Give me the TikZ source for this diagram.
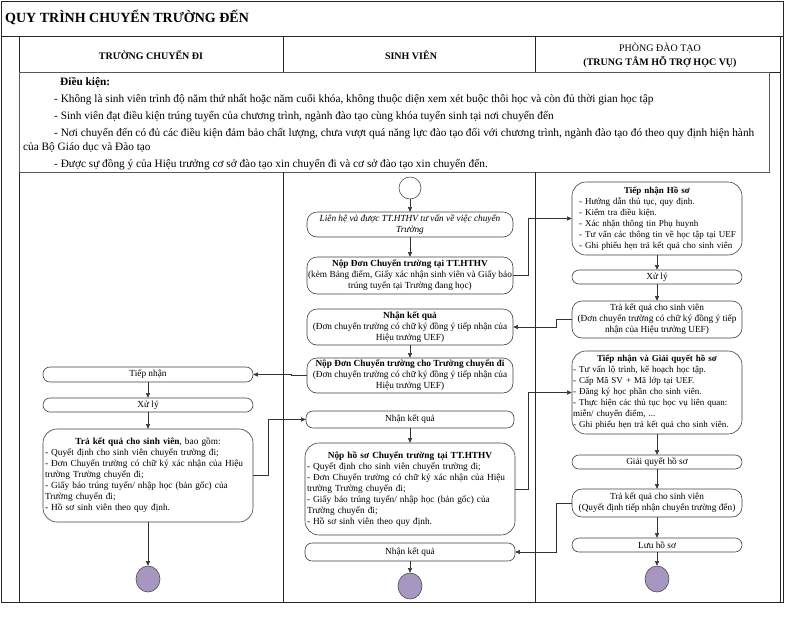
\documentclass[tikz,border=0pt]{standalone}
\usepackage{fontspec}
\setmainfont{Liberation Serif}
\usetikzlibrary{arrows.meta,shapes.geometric}
\definecolor{endc}{RGB}{166,150,192}
\begin{document}
\begin{tikzpicture}[x=1pt,y=-1pt,
  frame/.style={draw=black!85, line width=.8pt},
  bx/.style={draw=black!75, line width=.6pt, fill=white, inner sep=0pt, font=\fontsize{9.3}{11}\selectfont},
  pill/.style={bx, rounded corners=7pt, align=center},
  rbox/.style={bx, rounded corners=10pt, align=center},
  listbox/.style={bx, rounded corners=14pt},
  fin/.style={ellipse, draw=black!70, line width=.6pt, fill=endc, minimum width=24pt, minimum height=26pt, inner sep=0pt},
  startc/.style={circle, draw=black!70, line width=.6pt, fill=white, minimum size=22pt, inner sep=0pt},
  conn/.style={draw=black!80, line width=.5pt, -{Triangle[length=4.5pt,width=4pt]}},
  hdr/.style={font=\fontsize{10}{12}\selectfont, align=center, inner sep=0pt},
  cond/.style={font=\fontsize{11.3}{13}\selectfont, anchor=west, inner sep=0pt}
]
\useasboundingbox (0,0) rectangle (800,619);
% frames
\draw[frame] (1,1) rectangle (783,602);
\draw[frame] (1,36) -- (783,36);
\draw[frame] (19,36) -- (19,602);
\draw[frame] (780,36) -- (780,602);
\draw[frame] (19,72) -- (780,72);
\draw[frame] (283,36) -- (283,72);
\draw[frame] (535,36) -- (535,72);
\draw[draw=black!65, line width=.8pt] (19,72) rectangle (769,172);
\draw[frame] (283,172) -- (283,602);
\draw[frame] (535,172) -- (535,602);
% title and headers
\node[anchor=west, inner sep=0pt, font=\fontsize{14}{16}\selectfont\bfseries] (title) at (5,17) {QUY TRÌNH CHUYỂN TRƯỜNG ĐẾN};
\node[hdr, font=\fontsize{10}{12}\selectfont\bfseries] (h1) at (151,55) {TRƯỜNG CHUYỂN ĐI};
\node[hdr, font=\fontsize{10}{12}\selectfont\bfseries] (h2) at (411,55) {SINH VIÊN};
\node[hdr] (h3a) at (660,48) {PHÒNG ĐÀO TẠO};
\node[hdr, font=\fontsize{10}{12}\selectfont\bfseries] (h3b) at (660,62) {(TRUNG TÂM HỖ TRỢ HỌC VỤ)};
% conditions
\node[cond, font=\fontsize{11.3}{13}\selectfont\bfseries] (dk) at (60,82) {Điều kiện:};
\node[cond] (c1) at (54,100) {- Không là sinh viên trình độ năm thứ nhất hoặc năm cuối khóa, không thuộc diện xem xét buộc thôi học và còn đủ thời gian học tập};
\node[cond] (c2) at (54,117) {- Sinh viên đạt điều kiện trúng tuyển của chương trình, ngành đào tạo cùng khóa tuyển sinh tại nơi chuyển đến};
\node[cond] (c3) at (54,134) {- Nơi chuyển đến có đủ các điều kiện đảm bảo chất lượng, chưa vượt quá năng lực đào tạo đối với chương trình, ngành đào tạo đó theo quy định hiện hành};
\node[cond] (c3b) at (23,147) {của Bộ Giáo dục và Đào tạo};
\node[cond] (c4) at (54,165) {- Được sự đồng ý của Hiệu trưởng cơ sở đào tạo xin chuyển đi và cơ sở đào tạo xin chuyển đến.};
% lane 2: sinh vien
\node[startc] (s0) at (410,188) {};
\node[rbox, minimum width=206pt, minimum height=25pt, font=\fontsize{9.3}{11}\selectfont\itshape] (b1) at (410,224.5) {Liên hệ và được TT.HTHV tư vấn về việc chuyển\\Trường};
\node[rbox, minimum width=206pt, minimum height=37pt] (b2) at (410,275.5) {\textbf{Nộp Đơn Chuyển trường tại TT.HTHV}\\(kèm Bảng điểm, Giấy xác nhận sinh viên và Giấy báo\\trúng tuyển tại Trường đang học)};
\node[rbox, minimum width=206pt, minimum height=36pt] (b3) at (410,327) {\textbf{Nhận kết quả}\\(Đơn chuyển trường có chữ ký đồng ý tiếp nhận của\\Hiệu trưởng UEF)};
\node[rbox, minimum width=206pt, minimum height=35pt] (b4) at (410,375.5) {\textbf{Nộp Đơn Chuyển trường cho Trường chuyển đi}\\(Đơn chuyển trường có chữ ký đồng ý tiếp nhận của\\Hiệu trưởng UEF)};
\node[pill, minimum width=208pt, minimum height=17pt] (b5) at (410,419.5) {Nhận kết quả};
\node[listbox, minimum width=210pt, minimum height=92pt, text width=206pt] (b6) at (410,489) {{\centering\textbf{Nộp hồ sơ Chuyển trường tại TT.HTHV}\par}{\raggedright - Quyết định cho sinh viên chuyển trường đi;\\- Đơn Chuyển trường có chữ ký xác nhận của Hiệu\\trường Trường chuyển đi;\\- Giấy báo trúng tuyển/ nhập học (bản gốc) của\\Trường chuyển đi;\\- Hồ sơ sinh viên theo quy định.\par}};
\node[pill, minimum width=210pt, minimum height=18pt] (b7) at (410,552) {Nhận kết quả};
\node[fin] (e2) at (410,586) {};
% lane 1: truong chuyen di
\node[pill, minimum width=210pt, minimum height=15pt] (tn) at (148,374.5) {Tiếp nhận};
\node[pill, minimum width=210pt, minimum height=14pt] (xl) at (148,405) {Xử lý};
\node[listbox, minimum width=210pt, minimum height=93pt, text width=206pt] (tk0) at (148,475.5) {{\centering\textbf{Trả kết quả cho sinh viên}, bao gồm:\par}{\raggedright - Quyết định cho sinh viên chuyển trường đi;\\- Đơn Chuyển trường có chữ ký xác nhận của Hiệu\\trường Trường chuyển đi;\\- Giấy báo trúng tuyển/ nhập học (bản gốc) của\\Trường chuyển đi;\\- Hồ sơ sinh viên theo quy định.\par}};
\node[fin] (e1) at (148,579) {};
% lane 3: phong dao tao
\node[listbox, minimum width=170pt, minimum height=73pt, text width=168pt, font=\fontsize{9}{11}\selectfont] (t1) at (657,218.5) {{\centering\textbf{Tiếp nhận Hồ sơ}\par}{\raggedright\leftskip=6pt - Hướng dẫn thủ tục, quy định.\\- Kiểm tra điều kiện.\\- Xác nhận thông tin Phụ huynh\\- Tư vấn các thông tin về học tập tại UEF\\- Ghi phiếu hẹn trả kết quả cho sinh viên\par}};
\node[pill, minimum width=170pt, minimum height=14pt] (x3) at (657,277) {Xử lý};
\node[rbox, minimum width=170pt, minimum height=37pt] (tk1) at (657,319.5) {Trả kết quả cho sinh viên\\(Đơn chuyển trường có chữ ký đồng ý tiếp\\nhận của Hiệu trưởng UEF)};
\node[listbox, minimum width=170pt, minimum height=83pt, text width=168pt, font=\fontsize{9}{11}\selectfont] (tg) at (657,392.5) {{\centering\textbf{Tiếp nhận và Giải quyết hồ sơ}\par}{\raggedright - Tư vấn lộ trình, kế hoạch học tập.\\- Cấp Mã SV + Mã lớp tại UEF.\\- Đăng ký học phần cho sinh viên.\\- Thực hiện các thủ tục học vụ liên quan:\\miễn/ chuyển điểm, ...\\- Ghi phiếu hẹn trả kết quả cho sinh viên.\par}};
\node[pill, minimum width=170pt, minimum height=14pt] (gq) at (657,462) {Giải quyết hồ sơ};
\node[rbox, minimum width=170pt, minimum height=28pt] (tk2) at (657,503) {Trả kết quả cho sinh viên\\(Quyết định tiếp nhận chuyển trường đến)};
\node[pill, minimum width=170pt, minimum height=14pt] (lhs) at (657,545) {Lưu hồ sơ};
\node[fin] (e3) at (657,579) {};
% connectors lane 2
\draw[conn] (s0) -- (b1);
\draw[conn] (b1) -- (b2);
\draw[conn] (b3) -- (b4);
\draw[conn] (b5) -- (b6);
\draw[conn] (b7) -- (e2);
% lane 1
\draw[conn] (tn) -- (xl);
\draw[conn] (xl) -- (tk0);
\draw[conn] (tk0) -- (e1);
% lane 3
\draw[conn] (t1) -- (x3);
\draw[conn] (x3) -- (tk1);
\draw[conn] (tg) -- (gq);
\draw[conn] (gq) -- (tk2);
\draw[conn] (tk2) -- (lhs);
\draw[conn] (lhs) -- (e3);
% cross-lane
\draw[conn] (b2.east) -- ++(15,0) |- (t1.west);
\draw[conn] (tk1.west) -- ++(-15,0) |- (b3.east);
\draw[conn] (b4.west) -- ++(-15,0) |- (tn.east);
\draw[conn] (tk0.east) -- ++(15,0) |- (b5.west);
\draw[conn] (b6.east) -- ++(13,0) |- (tg.west);
\draw[conn] (tk2.west) -- ++(-15,0) |- (b7.east);
\end{tikzpicture}
\end{document}
